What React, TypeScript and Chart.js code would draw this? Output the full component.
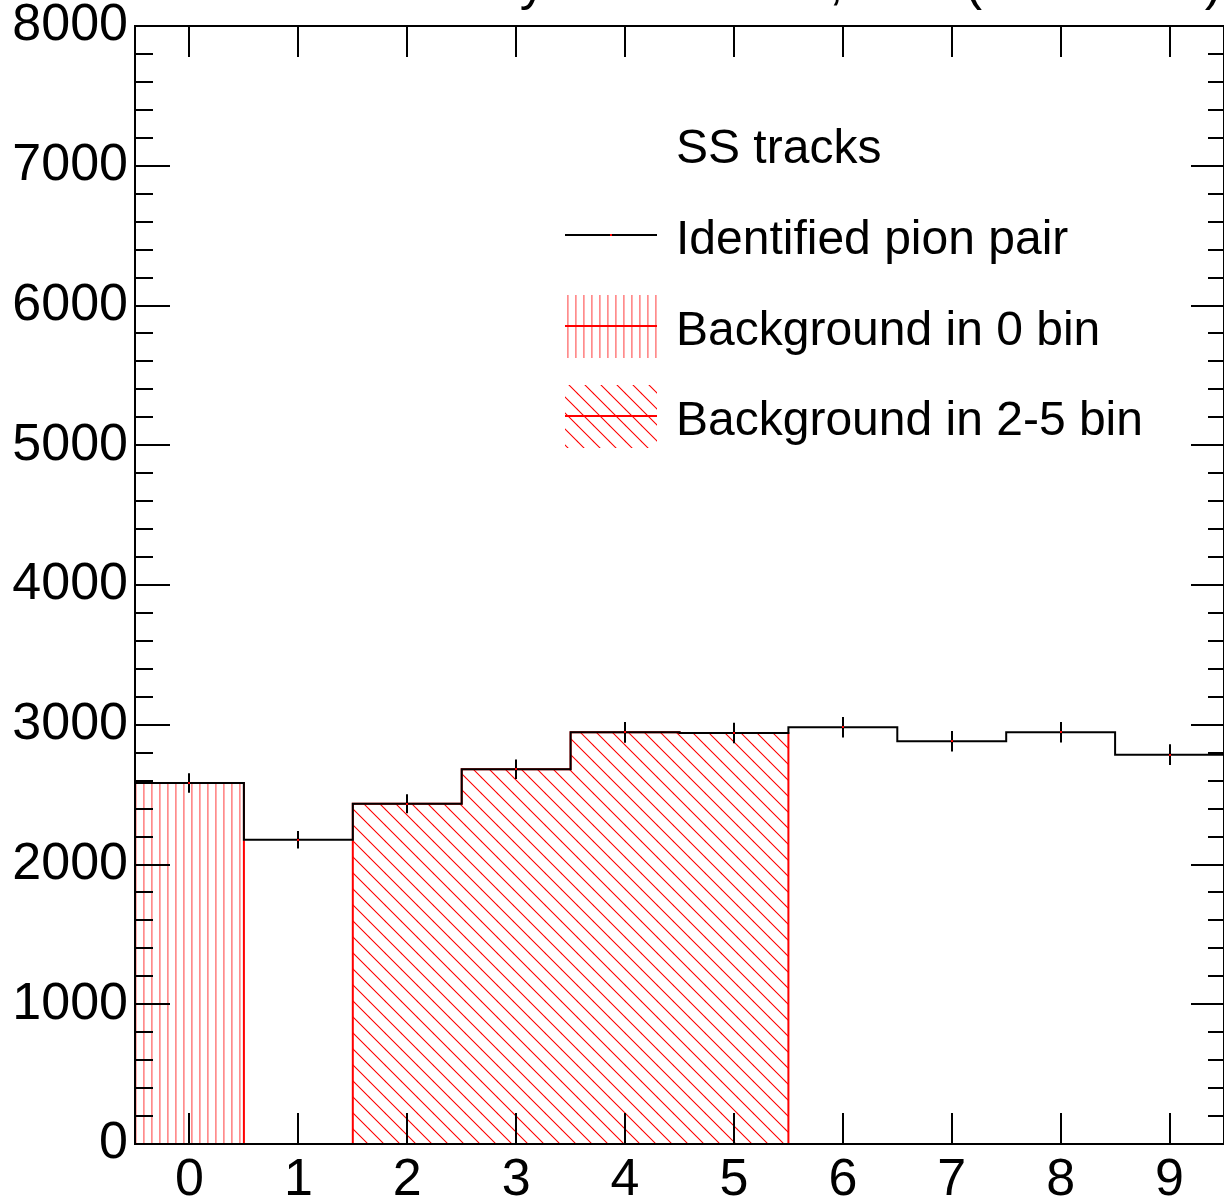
import React, { useEffect, useRef } from "react";
import { Chart, registerables } from "chart.js";

Chart.register(...registerables);

// ---- data ----
const binCenters: number[] = [0, 1, 2, 3, 4, 5, 6, 7, 8, 9];
const pionPairCounts: number[] = [2583, 2177, 2435, 2681, 2946, 2941, 2982, 2882, 2946, 2786];
const pionPairErrors: number[] = [70, 63, 68, 70, 74, 73, 73, 74, 73, 74];
const bkgZeroBinCounts: (number | null)[] = [2583, null, null, null, null, null, null, null, null, null];
const bkgTwoFiveBinCounts: (number | null)[] = [null, null, 2435, 2681, 2946, 2941, null, null, null, null];
const xTickValues: number[] = [0, 1, 2, 3, 4, 5, 6, 7, 8, 9];
const yMajorTicks: number[] = [0, 1000, 2000, 3000, 4000, 5000, 6000, 7000, 8000];
const yMinorStep = 200;
const legendHeader = "SS tracks";
const legendLabels: string[] = ["Identified pion pair", "Background in 0 bin", "Background in 2-5 bin"];
const titleText = "Track activity in the event, Nch (SS tracks)";

const FONT = "'Liberation Sans', Arial, Helvetica, sans-serif";

type Pt = { x: number; y: number };

function histPoints(centers: number[], values: number[]): Pt[] {
  const pts: Pt[] = centers.map((c, i) => ({ x: c - 0.5, y: values[i] }));
  const last = centers.length - 1;
  pts.push({ x: centers[last] + 0.5, y: values[last] });
  return pts;
}

function filledStepPoints(centers: number[], values: (number | null)[]): Pt[] {
  const pts: Pt[] = [];
  let inRun = false;
  for (let i = 0; i < centers.length; i++) {
    const v = values[i];
    if (v == null) {
      if (inRun) {
        pts.push({ x: centers[i] - 0.5, y: 0 });
        inRun = false;
      }
      continue;
    }
    if (!inRun) {
      pts.push({ x: centers[i] - 0.5, y: 0 });
      inRun = true;
    }
    pts.push({ x: centers[i] - 0.5, y: v });
  }
  if (inRun) pts.push({ x: centers[centers.length - 1] + 0.5, y: 0 });
  return pts;
}

function makeVerticalHatch(): CanvasPattern | string {
  const c = document.createElement("canvas");
  c.width = 8;
  c.height = 8;
  const g = c.getContext("2d");
  if (!g) return "rgba(255,0,0,0.4)";
  g.fillStyle = "rgb(255,140,140)";
  g.fillRect(7, 0, 1, 8);
  g.fillStyle = "rgb(255,175,175)";
  g.fillRect(0, 0, 1, 8);
  return g.createPattern(c, "repeat") as CanvasPattern;
}

function makeDiagonalHatch(): CanvasPattern | string {
  const c = document.createElement("canvas");
  c.width = 16;
  c.height = 16;
  const g = c.getContext("2d");
  if (!g) return "rgba(255,0,0,0.4)";
  g.strokeStyle = "rgb(255,0,0)";
  g.lineWidth = 1.1;
  // lines where x - y = 8 (mod 16)
  g.beginPath();
  g.moveTo(6, -2);
  g.lineTo(18, 10);
  g.moveTo(-2, 6);
  g.lineTo(10, 18);
  g.moveTo(-10, -2);
  g.lineTo(2, 10);
  g.moveTo(14, 22);
  g.lineTo(26, 34);
  g.stroke();
  return g.createPattern(c, "repeat") as CanvasPattern;
}

export default function App() {
  const ref = useRef<HTMLCanvasElement | null>(null);

  useEffect(() => {
    const canvas = ref.current;
    if (!canvas) return;
    document.body.style.margin = "0";
    const vHatch = makeVerticalHatch();
    const dHatch = makeDiagonalHatch();

    const overlay = {
      id: "rootStyle",
      afterDatasetsDraw(chart: any) {
        const ctx: CanvasRenderingContext2D = chart.ctx;
        const xs = chart.scales.x;
        const ys = chart.scales.y;
        ctx.save();
        // error bars
        ctx.strokeStyle = "#000";
        ctx.lineWidth = 2;
        binCenters.forEach((c, i) => {
          const px = Math.round(xs.getPixelForValue(c));
          const y1 = ys.getPixelForValue(pionPairCounts[i] - pionPairErrors[i]);
          const y2 = ys.getPixelForValue(pionPairCounts[i] + pionPairErrors[i]);
          ctx.beginPath();
          ctx.moveTo(px, y1);
          ctx.lineTo(px, y2);
          ctx.stroke();
        });
        ctx.fillStyle = "#ff0000";
        binCenters.forEach((c, i) => {
          const px = Math.round(xs.getPixelForValue(c));
          const py = Math.round(ys.getPixelForValue(pionPairCounts[i]));
          ctx.fillRect(px - 1, py - 1, 2, 2);
        });
        ctx.restore();
      },
      afterDraw(chart: any) {
        const ctx: CanvasRenderingContext2D = chart.ctx;
        const xs = chart.scales.x;
        const ys = chart.scales.y;
        const a = chart.chartArea;
        ctx.save();
        ctx.strokeStyle = "#000";
        ctx.lineWidth = 2;
        // frame
        ctx.strokeRect(a.left, a.top, a.right - a.left, a.bottom - a.top);
        // x ticks (inside, bottom and top)
        ctx.beginPath();
        xTickValues.forEach((v) => {
          const px = Math.round(xs.getPixelForValue(v));
          ctx.moveTo(px, a.bottom);
          ctx.lineTo(px, a.bottom - 31);
          ctx.moveTo(px, a.top);
          ctx.lineTo(px, a.top + 31);
        });
        // y ticks (inside, left and right)
        const yMax = yMajorTicks[yMajorTicks.length - 1];
        for (let v = 0; v <= yMax; v += yMinorStep) {
          const major = yMajorTicks.indexOf(v) >= 0;
          const py = Math.round(ys.getPixelForValue(v));
          ctx.moveTo(a.left, py);
          ctx.lineTo(a.left + (major ? 35 : 18), py);
          ctx.moveTo(a.right, py);
          ctx.lineTo(a.right - (major ? 33 : 16), py);
        }
        ctx.stroke();

        // title (mostly above the canvas)
        ctx.fillStyle = "#000";
        ctx.font = `52px ${FONT}`;
        ctx.textAlign = "right";
        ctx.textBaseline = "alphabetic";
        ctx.fillText(titleText, a.right - 2, -1);

        // legend
        const symL = 565;
        const symR = 657;
        const symC = Math.round((symL + symR) / 2);
        const textX = 676;
        ctx.textAlign = "left";
        ctx.font = `48px ${FONT}`;
        ctx.fillText(legendHeader, textX, 163);
        // entry 1
        ctx.strokeStyle = "#000";
        ctx.lineWidth = 2;
        ctx.beginPath();
        ctx.moveTo(symL, 235);
        ctx.lineTo(symR, 235);
        ctx.stroke();
        ctx.fillStyle = "#ff0000";
        ctx.fillRect(symC - 1, 234, 2, 2);
        ctx.fillStyle = "#000";
        ctx.fillText(legendLabels[0], textX, 254);
        // entry 2
        ctx.fillStyle = vHatch as any;
        ctx.fillRect(symL, 295, symR - symL, 63);
        ctx.strokeStyle = "#ff0000";
        ctx.beginPath();
        ctx.moveTo(symL, 326);
        ctx.lineTo(symR, 326);
        ctx.stroke();
        ctx.fillStyle = "#ff0000";
        ctx.fillRect(symC - 1, 325, 2, 2);
        ctx.fillStyle = "#000";
        ctx.fillText(legendLabels[1], textX, 345);
        // entry 3
        ctx.fillStyle = dHatch as any;
        ctx.fillRect(symL, 385, symR - symL, 63);
        ctx.strokeStyle = "#ff0000";
        ctx.beginPath();
        ctx.moveTo(symL, 416);
        ctx.lineTo(symR, 416);
        ctx.stroke();
        ctx.fillStyle = "#ff0000";
        ctx.fillRect(symC - 1, 415, 2, 2);
        ctx.fillStyle = "#000";
        ctx.fillText(legendLabels[2], textX, 435);
        ctx.restore();
      },
    };

    const chart = new Chart(canvas, {
      type: "line",
      data: {
        datasets: [
          {
            label: legendLabels[0],
            data: histPoints(binCenters, pionPairCounts),
            borderColor: "#000",
            borderWidth: 2,
            stepped: true,
            pointRadius: 0,
            fill: false,
            order: 0,
          },
          {
            label: legendLabels[1],
            data: filledStepPoints(binCenters, bkgZeroBinCounts),
            borderColor: "#ff0000",
            borderWidth: 2,
            stepped: true,
            pointRadius: 0,
            fill: "origin",
            backgroundColor: vHatch as any,
            order: 1,
          },
          {
            label: legendLabels[2],
            data: filledStepPoints(binCenters, bkgTwoFiveBinCounts),
            borderColor: "#ff0000",
            borderWidth: 2,
            stepped: true,
            pointRadius: 0,
            fill: "origin",
            backgroundColor: dHatch as any,
            order: 2,
          },
        ],
      },
      options: {
        animation: false,
        responsive: false,
        devicePixelRatio: 1,
        layout: { padding: { top: 26, right: 0, left: 0, bottom: 0 } },
        plugins: {
          legend: { display: false },
          tooltip: { enabled: false },
          title: { display: false },
        },
        scales: {
          x: {
            type: "linear",
            min: -0.5,
            max: 9.5,
            grid: { display: false, drawTicks: false },
            border: { display: false },
            ticks: {
              font: { family: FONT, size: 52 },
              color: "#000",
              padding: 5,
              autoSkip: false,
              maxRotation: 0,
              callback: (v: any) => String(v),
            },
            afterBuildTicks: (s: any) => {
              s.ticks = xTickValues.map((v) => ({ value: v }));
            },
            afterFit: (s: any) => {
              s.height = 56;
              s.paddingLeft = 0;
              s.paddingRight = 0;
            },
          },
          y: {
            type: "linear",
            min: 0,
            max: 8000,
            grid: { display: false, drawTicks: false },
            border: { display: false },
            ticks: {
              font: { family: FONT, size: 52 },
              color: "#000",
              padding: 7,
              stepSize: 1000,
              callback: (v: any) => String(v),
            },
            afterBuildTicks: (s: any) => {
              s.ticks = yMajorTicks.map((v) => ({ value: v }));
            },
            afterFit: (s: any) => {
              s.width = 135;
              s.paddingTop = 0;
              s.paddingBottom = 0;
            },
          },
        },
      } as any,
      plugins: [overlay],
    });

    return () => {
      chart.destroy();
    };
  }, []);

  return (
    <div style={{ position: "absolute", left: 0, top: 0, width: 1224, height: 1200, background: "#fff" }}>
      <canvas ref={ref} width={1224} height={1200} style={{ width: 1224, height: 1200, display: "block" }} />
    </div>
  );
}
